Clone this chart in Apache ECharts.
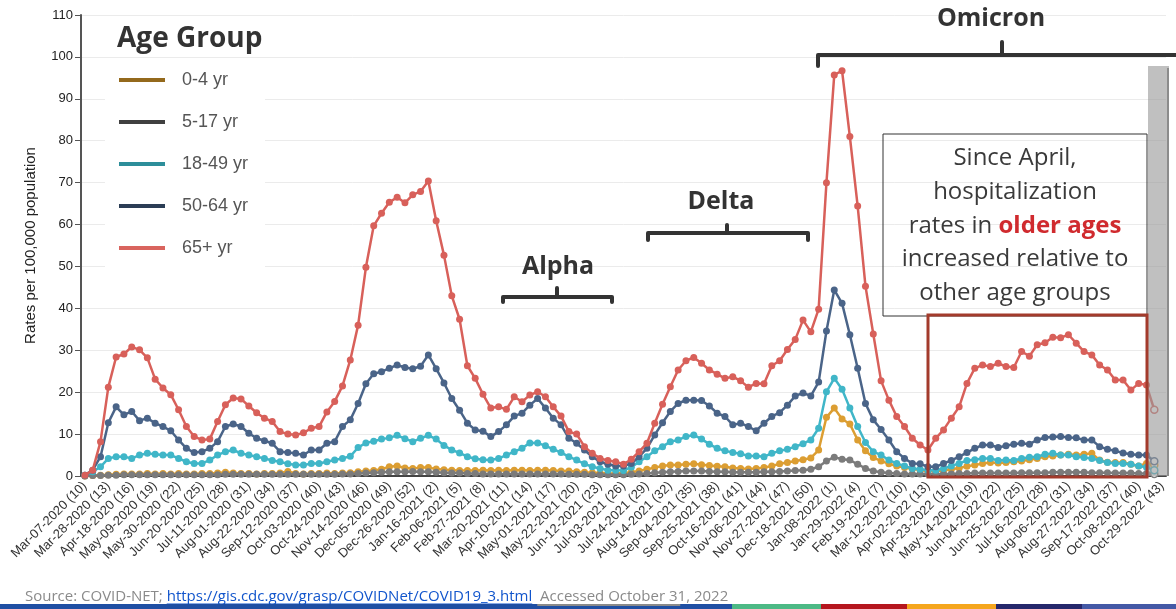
<!DOCTYPE html>
<html><head><meta charset="utf-8">
<script src="https://cdn.jsdelivr.net/npm/echarts@6/dist/echarts.min.js"></script>
<style>html,body{margin:0;padding:0;background:#fff}#c{width:1176px;height:609px}</style>
</head><body><div id="c"></div>
<script>
// ---------- data ----------
const firstWeekEnding = '2020-03-07';
const weekCount = 139;
const ageGroups = ['0-4 yr', '5-17 yr', '18-49 yr', '50-64 yr', '65+ yr'];

const rate0to4 = [
  0.0,0.1,0.2,0.3,0.4,0.5,0.5,0.5,0.6,0.5,
  0.6,0.5,0.6,0.5,0.5,0.6,0.6,0.7,0.9,0.7,
  0.6,0.6,0.5,0.6,0.6,0.7,1.1,0.6,0.5,0.6,
  0.6,0.7,0.6,0.7,0.8,1.0,1.2,1.3,1.6,2.2,
  2.4,1.9,1.8,2.0,2.0,1.7,1.5,1.4,1.3,1.3,
  1.3,1.4,1.3,1.4,1.3,1.4,1.4,1.3,1.4,1.4,
  1.3,1.2,1.2,1.0,0.9,0.8,0.7,0.6,0.6,0.7,
  0.9,1.2,1.6,2.0,2.4,2.6,2.6,2.8,2.9,2.7,
  2.5,2.3,2.2,1.9,1.8,1.7,1.8,2.0,2.4,2.9,
  3.2,3.6,3.9,4.3,6.2,14.0,16.2,13.6,12.4,8.6,
  6.0,4.4,3.6,2.9,2.4,2.0,1.7,1.4,1.2,1.2,
  1.3,1.6,1.9,2.3,2.6,3.0,3.2,3.1,3.2,3.4,
  3.6,3.9,4.2,4.6,4.8,5.0,5.2,5.0,5.2,5.4,
  3.8,3.3,3.2,3.2,2.8,2.4,3.0,2.6
];
const rate5to17 = [
  0.0,0.1,0.1,0.2,
  0.2,0.3,0.3,0.3,0.3,0.3,0.3,0.3,0.3,0.3,0.3,0.3,0.3,0.3,0.4,0.4,0.4,0.4,0.4,0.4,0.4,0.4,0.4,0.4,0.4,0.4,0.4,0.4,0.4,0.5,0.5,
  0.6,0.7,0.8,0.9,1.0,1.0,1.0,1.1,1.0,1.0,0.9,0.8,0.7,0.7,0.6,0.6,
  0.5,0.5,0.5,0.5,0.5,0.5,0.5,0.5,0.5,0.5,0.5,0.4,0.4,0.4,0.3,0.3,0.3,0.3,0.3,0.4,
  0.5,0.6,0.8,0.9,1.0,1.1,1.2,1.2,1.2,1.1,1.0,1.0,0.9,0.9,0.9,0.9,1.0,1.0,1.1,1.2,1.3,1.4,1.6,
  2.2,3.6,4.5,4.0,3.8,2.8,1.8,1.2,0.9,0.7,
  0.6,0.5,0.5,0.5,0.5,0.5,0.5,0.5,0.6,0.6,0.7,0.7,0.7,0.7,0.7,0.7,0.8,0.8,0.8,0.8,0.9,0.9,0.9,0.9,0.9,0.8,0.8,0.8,0.7,0.7,0.7,0.6,0.6,0.5
];
const rate18to49 = [
  0.2,1.0,2.2,4.2,4.6,4.6,4.2,5.0,5.4,5.2,
  5.0,5.0,4.2,3.4,3.0,3.0,3.8,5.0,5.8,6.2,
  5.4,5.0,4.6,4.2,3.7,3.4,2.9,2.6,2.6,3.0,
  3.0,3.4,3.8,4.2,4.7,6.8,7.9,8.3,8.8,9.1,
  9.7,8.9,8.2,9.0,9.7,8.8,7.3,6.2,5.5,4.6,
  4.1,3.9,3.8,4.2,5.0,5.8,6.6,7.9,7.9,7.2,
  6.4,5.6,4.6,3.8,2.9,2.2,1.8,1.4,1.4,1.3,
  2.1,3.4,4.6,6.0,7.0,8.2,8.6,9.4,9.8,8.8,
  7.6,6.6,6.0,5.6,5.3,4.8,4.8,4.6,5.4,6.0,
  6.4,7.0,7.7,8.6,11.4,20.1,23.3,20.7,16.2,11.8,
  8.0,5.8,5.0,3.8,3.0,2.4,1.8,1.6,1.4,1.4,
  1.8,2.4,3.0,3.7,3.9,4.2,4.2,3.7,3.8,3.7,
  4.2,4.5,4.6,5.2,5.4,5.0,5.0,4.6,4.4,4.2,
  3.7,3.2,3.0,3.0,2.8,2.4,2.1,1.4
];
const rate50to64 = [
  0.2,1.4,4.6,12.7,16.5,14.6,15.4,13.2,13.8,12.6,
  11.8,10.8,8.6,6.6,5.6,5.8,6.6,8.2,11.8,12.4,
  11.8,10.2,9.0,8.4,7.8,5.8,5.6,5.4,5.0,6.2,
  6.2,7.8,8.2,11.8,13.4,17.3,22.0,24.4,24.9,25.7,
  26.5,25.9,25.6,26.2,28.9,25.6,22.2,18.5,15.7,12.6,
  11.0,10.7,9.4,10.6,12.2,14.3,15.0,16.9,18.5,16.2,
  13.8,12.2,9.0,7.8,6.2,4.6,3.4,2.8,2.4,2.4,
  3.0,4.6,6.6,9.8,12.7,15.4,17.3,18.1,18.1,18.0,
  16.7,15.0,14.2,12.2,12.6,11.8,10.8,12.6,14.2,15.1,
  16.9,19.1,19.8,19.1,22.4,34.6,44.4,41.2,33.7,25.7,
  17.3,13.4,11.1,8.6,5.8,4.2,3.0,2.9,2.2,2.2,
  3.0,3.7,4.6,5.6,6.6,7.4,7.4,6.8,7.2,7.6,
  7.8,7.6,8.6,9.2,9.3,9.4,9.2,9.1,8.6,8.6,
  7.0,6.4,6.0,5.5,5.2,5.0,5.0,3.5
];
const rate65plus = [
  0.2,1.4,8.2,21.2,28.4,29.1,30.8,30.1,28.2,23.1,
  21.0,19.4,15.8,11.8,9.4,8.6,8.8,13.0,17.0,18.6,
  18.4,16.7,15.1,13.8,13.0,10.6,10.0,9.8,10.3,11.4,
  11.8,15.3,17.8,21.5,27.7,36.0,49.8,59.7,62.7,65.3,
  66.5,65.2,67.1,67.9,70.4,60.9,52.7,43.0,37.4,26.3,
  23.3,19.5,16.2,16.5,15.9,18.9,17.7,19.3,20.1,18.9,
  16.5,14.3,10.6,10.0,7.0,5.4,4.2,3.7,3.4,2.8,
  4.0,5.8,7.8,12.6,17.1,21.3,25.3,27.5,28.3,26.9,
  25.3,24.3,23.3,23.7,22.7,21.2,22.1,22.0,26.3,27.5,
  30.2,32.6,37.2,34.4,39.8,70.0,95.7,96.7,81.0,64.4,
  45.3,33.9,22.7,18.1,14.2,11.8,9.0,7.4,6.2,9.0,
  11.0,13.8,16.5,22.1,25.7,26.5,26.1,26.9,26.1,25.9,
  29.7,28.6,31.3,31.8,33.1,33.0,33.7,31.7,29.7,28.9,
  26.5,25.3,22.9,22.9,20.5,22.1,21.7,15.8
];
const yMin = 0, yMax = 110, yStep = 10;

// ---------- styles ----------
const lineColors = ['#dc9e32', '#7b7b7b', '#40b6c8', '#4a6488', '#d8605a'];
const legendColors = ['#94691c', '#404040', '#2d8e9a', '#2b3d55', '#d9645e'];
const FONT = '"Open Sans", "Noto Sans", sans-serif';

// ---------- categories: week ending dates with MMWR week ----------
const MONTHS = ['Jan','Feb','Mar','Apr','May','Jun','Jul','Aug','Sep','Oct','Nov','Dec'];
function pad(n){ return (n < 10 ? '0' : '') + n; }
function weekLabel(d){
  const wed = new Date(d.getTime() - 3 * 864e5);
  const y = wed.getUTCFullYear();
  const doy = Math.round((wed.getTime() - Date.UTC(y, 0, 1)) / 864e5) + 1;
  const wk = Math.floor((doy - 1) / 7) + 1;
  return MONTHS[d.getUTCMonth()] + '-' + pad(d.getUTCDate()) + '-' + d.getUTCFullYear() + ' (' + wk + ')';
}
const categories = [];
{
  const p = firstWeekEnding.split('-').map(Number);
  const t0 = Date.UTC(p[0], p[1] - 1, p[2]);
  for (let i = 0; i < weekCount; i++) categories.push(weekLabel(new Date(t0 + i * 7 * 864e5)));
}

const allSeries = [rate0to4, rate5to17, rate18to49, rate50to64, rate65plus];

function makeSeries(arr, idx){
  const col = lineColors[idx];
  const data = arr.map((v, i) => i === arr.length - 1
    ? { value: v, itemStyle: { color: '#fff', borderColor: col, borderWidth: 1.5 } }
    : v);
  return {
    name: ageGroups[idx], type: 'line', data: data,
    symbol: 'circle', symbolSize: 7, showSymbol: true, showAllSymbol: true,
    lineStyle: { width: 2.5, color: col },
    itemStyle: { color: col },
    emphasis: { disabled: true },
    z: 2 + idx
  };
}

// measure text for underline
function textWidth(str, font){
  const c = document.createElement('canvas').getContext('2d');
  c.font = font; return c.measureText(str).width;
}
const srcFont = '15px "Open Sans"';
const srcA = 'Source: COVID-NET; ';
const srcLink = 'https://gis.cdc.gov/grasp/COVIDNet/COVID19_3.html';
const srcB = '  Accessed October 31, 2022';
const srcX = 25;
const wA = textWidth(srcA, srcFont), wL = textWidth(srcLink, srcFont), wB = textWidth(srcB, srcFont);

function bracket(pts, notch){
  return [
    { type: 'polyline', shape: { points: pts }, style: { stroke: '#333', lineWidth: 4, fill: null, lineJoin: 'round', lineCap: 'round' }, z: 20 },
    { type: 'polyline', shape: { points: notch }, style: { stroke: '#333', lineWidth: 4, fill: null, lineCap: 'round' }, z: 20 }
  ];
}

const stripColors = [['#1f4fa3', 0, 732], ['#4cb985', 732, 821], ['#b5161e', 821, 907], ['#f5a61d', 907, 996], ['#25276b', 996, 1082], ['#4459a6', 1082, 1176]];

const chart = echarts.init(document.getElementById('c'), null, { renderer: 'canvas' });
chart.setOption({
  animation: false,
  backgroundColor: '#fff',
  grid: { left: 81, right: 10, top: 15, bottom: 133, containLabel: false },
  xAxis: {
    type: 'category', data: categories, boundaryGap: true,
    axisLine: { lineStyle: { color: '#444', width: 2 } },
    axisTick: { interval: 0, length: 6, lineStyle: { color: '#333', width: 1 } },
    axisLabel: { interval: 2, rotate: 45, fontSize: 13, color: '#333', fontFamily: '"Liberation Sans", Arial, sans-serif', margin: 8 },
    splitLine: { show: false }
  },
  yAxis: {
    type: 'value', min: yMin, max: yMax, interval: yStep,
    name: 'Rates per 100,000 population', nameLocation: 'middle', nameGap: 43,
    nameTextStyle: { fontSize: 15, color: '#222', fontFamily: '"Liberation Sans", Arial, sans-serif' },
    axisLine: { show: true, lineStyle: { color: '#555', width: 2 } },
    axisTick: { show: true, length: 6, lineStyle: { color: '#555' } },
    axisLabel: { fontSize: 13, color: '#222', margin: 8, fontFamily: '"Liberation Sans", Arial, sans-serif' },
    splitLine: { lineStyle: { color: '#ebebeb', width: 1 } }
  },
  legend: {
    orient: 'vertical', left: 105, top: 62, padding: [8, 17, 14, 14],
    backgroundColor: '#fff', itemWidth: 46, itemHeight: 4, itemGap: 22, icon: 'rect',
    selectedMode: false, z: 30,
    textStyle: { fontSize: 18, color: '#555', fontFamily: '"Liberation Sans", Arial, sans-serif', lineHeight: 20, padding: [0, 0, 0, 12] },
    data: ageGroups.map((n, i) => ({ name: n, itemStyle: { color: legendColors[i] } }))
  },
  series: allSeries.map(makeSeries),
  graphic: [
    { type: 'text', x: 117, y: 39, z: 31, style: { text: 'Age Group', fill: '#333', font: 'bold 28px ' + FONT, verticalAlign: 'middle' } },
    // gray incomplete-data bar
    { type: 'rect', shape: { x: 1148, y: 66, width: 21, height: 410 }, style: { fill: '#9a9a9a', opacity: 0.62 }, z: 15 },
    { type: 'line', shape: { x1: 1168, y1: 68, x2: 1168, y2: 476 }, style: { stroke: '#8c8c8c', lineWidth: 2 }, z: 16 },
    // text box
    { type: 'rect', shape: { x: 883, y: 134, width: 264, height: 182 }, style: { fill: null, stroke: '#333', lineWidth: 1 }, z: 20 },
    { type: 'text', x: 1015, y: 158, z: 21, style: { text: 'Since April,', fill: '#3a3a3a', font: '24px ' + FONT, align: 'center', verticalAlign: 'middle' } },
    { type: 'text', x: 1015, y: 192, z: 21, style: { text: 'hospitalization', fill: '#3a3a3a', font: '24px ' + FONT, align: 'center', verticalAlign: 'middle' } },
    { type: 'text', x: 1015, y: 226, z: 21, style: { text: '{a|rates in }{b|older ages}', align: 'center', verticalAlign: 'middle',
        rich: { a: { fill: '#3a3a3a', font: '24px ' + FONT }, b: { fill: '#d02a2e', font: 'bold 24px ' + FONT } } } },
    { type: 'text', x: 1015, y: 259, z: 21, style: { text: 'increased relative to', fill: '#3a3a3a', font: '24px ' + FONT, align: 'center', verticalAlign: 'middle' } },
    { type: 'text', x: 1015, y: 293, z: 21, style: { text: 'other age groups', fill: '#3a3a3a', font: '24px ' + FONT, align: 'center', verticalAlign: 'middle' } },
    // red highlight box
    { type: 'rect', shape: { x: 928, y: 315, width: 219, height: 162 }, style: { fill: null, stroke: '#a33b2c', lineWidth: 3 }, z: 20 },
    // variant labels
    { type: 'text', x: 991, y: 19, z: 21, style: { text: 'Omicron', fill: '#333', font: 'bold 25px ' + FONT, align: 'center', verticalAlign: 'middle' } },
    { type: 'text', x: 721, y: 202, z: 21, style: { text: 'Delta', fill: '#333', font: 'bold 25px ' + FONT, align: 'center', verticalAlign: 'middle' } },
    { type: 'text', x: 558, y: 267, z: 21, style: { text: 'Alpha', fill: '#333', font: 'bold 25px ' + FONT, align: 'center', verticalAlign: 'middle' } },
    ...bracket([[818, 66], [818, 55], [1180, 55]], [[1002, 55], [1002, 42]]),
    ...bracket([[648, 240], [648, 233], [808, 233], [808, 240]], [[727, 233], [727, 225]]),
    ...bracket([[503, 302], [503, 297], [612, 297], [612, 302]], [[557, 297], [557, 288]]),
    // source line
    { type: 'text', x: srcX, y: 597, z: 21, style: { text: srcA, fill: '#8a8a8a', font: srcFont, verticalAlign: 'middle' } },
    { type: 'text', x: srcX + wA, y: 597, z: 21, style: { text: srcLink, fill: '#1155cc', font: srcFont, verticalAlign: 'middle' } },
    { type: 'line', shape: { x1: srcX + wA, y1: 604, x2: srcX + wA + wL, y2: 604 }, style: { stroke: '#1155cc', lineWidth: 1 }, z: 21 },
    { type: 'text', x: srcX + wA + wL, y: 597, z: 21, style: { text: srcB, fill: '#8a8a8a', font: srcFont, verticalAlign: 'middle' } },
    ...stripColors.map(s => ({ type: 'rect', shape: { x: s[1], y: 604, width: s[2] - s[1], height: 5 }, style: { fill: s[0] }, z: 22 })),
    { type: 'rect', shape: { x: srcX + wA + wL + 5, y: 604, width: 143, height: 2 }, style: { fill: '#8a8a8a' }, z: 23 }
  ]
});
</script></body></html>
